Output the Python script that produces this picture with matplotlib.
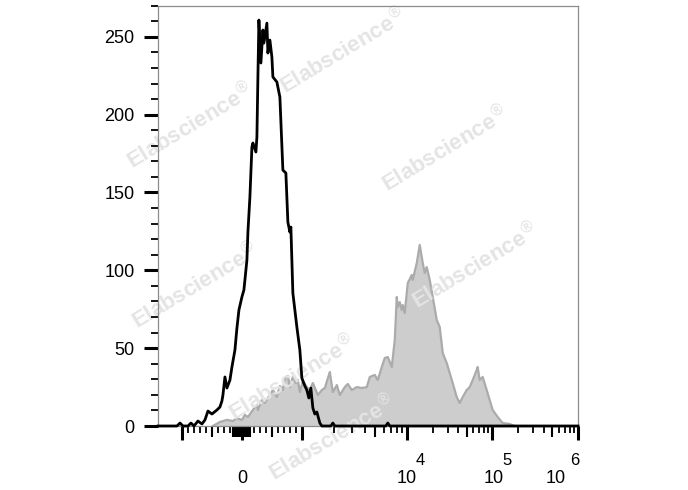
import matplotlib
matplotlib.use('Agg')
import matplotlib.pyplot as plt
import numpy as np
from matplotlib.ticker import MultipleLocator

plt.rcParams['font.family'] = ['Liberation Sans', 'DejaVu Sans']

#======================================================
# histogram outlines: display channel (0-1050) vs event count

# unstained / isotype control (black line)
black_ch = [0, 47.5, 55, 62.5, 75, 82.5, 90, 100, 110, 117.5, 125, 135, 147.5, 155,
            160, 162.5, 167.5, 172.5, 180, 185, 192.5, 197.5, 202.5, 210, 215, 222.5,
            225, 230, 235, 237.5, 245, 247.5, 250, 252.5, 257.5, 262.5, 265, 272.5,
            275, 280, 285, 287.5, 297.5, 305, 312.5, 320, 325, 330, 332.5, 337.5,
            347.5, 355, 360, 367.5, 372.5, 377.5, 382.5, 387.5, 392.5, 397.5, 405,
            410, 432.5, 437.5, 442.5, 570, 575, 580, 1051]
black_count = [0, 0, 1.9, 0, 0, 1.9, 0, 3.2, 1.3, 3.9, 9.6, 7.7, 10.3, 12.2,
               16.1, 19.9, 31.5, 24.4, 29.5, 37.9, 48.8, 62.9, 74.5, 82.9, 87.4, 106.6,
               124.6, 147.1, 179.2, 181.8, 176, 185.6, 224.2, 260.8, 233.2, 254.4, 246, 258.8,
               239.6, 247.9, 237, 224.2, 221, 211.3, 164.4, 162.5, 131, 124.6, 127.8, 85.4,
               63.6, 48.8, 30.8, 25.7, 23.1, 18, 24.4, 11.6, 7.7, 9, 1.9,
               0, 0, 1.9, 0, 0, 1.9, 0, 0]

# stained sample (grey filled)
gray_ch = [137.5, 155, 172.5, 187.5, 197.5, 210, 217.5, 225, 237.5, 247.5, 250, 260,
           267.5, 280, 287.5, 297.5, 305, 312.5, 317.5, 325, 330, 337.5, 345, 350,
           355, 362.5, 372.5, 380, 387.5, 400, 410, 417.5, 430, 437.5, 447.5, 455,
           467.5, 475, 485, 497.5, 510, 522.5, 530, 542.5, 550, 560, 567.5, 575,
           585, 592.5, 597.5, 600, 605, 610, 612.5, 617.5, 625, 635, 637.5, 647.5,
           655, 662.5, 667.5, 672.5, 680, 687.5, 697.5, 705, 712.5, 722.5, 730, 737.5,
           747.5, 755, 762.5, 772.5, 780, 787.5, 797.5, 800, 805, 812.5, 822.5, 830,
           837.5, 850, 862.5, 880, 892.5]
gray_count = [0, 2.6, 3.9, 3.2, 5.1, 3.9, 7.1, 5.8, 10.3, 13.5, 10.3, 16.7,
              14.8, 19.9, 23.1, 18.6, 25.7, 23.1, 30.8, 32.1, 25, 31.5, 27.6, 29.5,
              21.8, 28.9, 25, 23.1, 27.6, 19.9, 23.1, 24.4, 34.7, 21.8, 26.3, 19.9,
              25, 27, 23.1, 25, 24.4, 25, 31.5, 32.8, 29.5, 37.9, 43.7, 44.3,
              37.9, 55.2, 82.9, 76.4, 79.6, 74.5, 77.7, 72.6, 91.8, 97, 93.8, 104.7,
              116.3, 104.7, 98.3, 102.1, 93.8, 82.9, 68.1, 63.6, 46.9, 40.5, 34, 27.6,
              18.6, 14.8, 18.6, 23.1, 25, 29.5, 36, 37.9, 29.5, 31.5, 23.1, 16.7,
              10.3, 5.8, 1.9, 1.3, 0]

# axis ticks (fluorescence intensity)
major_vals = [-1000, 0, 1000, 1e4, 1e5, 1e6]
medium_vals = [-500, 500, 5e3, 5e4, 5e5] + list(range(-140, 141, 20))
minor_vals = [-900, -800, -700, -600, -400, -300, -200, 200, 300, 400,
              600, 700, 800, 900] + [k * 10**e for e in (3, 4, 5)
                                     for k in (2, 3, 4, 6, 7, 8, 9)]
# (value, base text, exponent, base x offset px, exponent x offset px)
xlabels = [(0, '0', None, 0, 0),
           (1e4, '10', '4', -0.5, 9),
           (1e5, '10', '5', 1.5, 10),
           (1e6, '10', '6', -22, -8)]

#======================================================
def to_channel(v):
    # biexponential-like display: linear around zero, log above 10^3
    v = np.asarray(v, dtype=float)
    out = np.empty_like(v)
    lin = np.abs(v) <= 1000
    out[lin] = 210 + 0.151 * v[lin]
    mid = (v > 1000) & (v <= 1e4)
    out[mid] = 361 + 261.5 * np.log10(v[mid] / 1000)
    hi = v > 1e4
    out[hi] = 622.5 + 214 * np.log10(v[hi] / 1e4)
    neg = v < -1000
    out[neg] = 59 - 261.5 * np.log10(-v[neg] / 1000)
    return out

#======================================================
fig = plt.figure(figsize=(6.88, 4.9), dpi=100)
ax = fig.add_axes([158/688, 64/490, 420/688, 420.3/490])

ax.fill_between(gray_ch, gray_count, color='#cdcdcd', lw=0, zorder=1)
ax.plot(gray_ch, gray_count, color='#ababab', lw=1.6, zorder=1.2)
ax.plot(black_ch, black_count, color='black', lw=2.0, zorder=3, clip_on=False)

ax.set_xlim(0, 1051)
ax.set_ylim(0, 270)

for s in ['top', 'right', 'left', 'bottom']:
    ax.spines[s].set_color('#8c8c8c')
    ax.spines[s].set_linewidth(0.9)

ax.set_yticks(range(0, 251, 50))
ax.yaxis.set_minor_locator(MultipleLocator(10))
ax.tick_params(axis='y', which='major', length=10, width=2.2, labelsize=13, pad=7)
ax.tick_params(axis='y', which='minor', length=5, width=1.3)

ax.set_xticks(to_channel(major_vals))
ax.set_xticks(to_channel(minor_vals), minor=True)
ax.tick_params(axis='x', which='major', length=10, width=2.2, labelbottom=False)
ax.tick_params(axis='x', which='minor', length=5, width=1.3)

sec = ax.secondary_xaxis('bottom')
sec.set_xticks(to_channel(medium_vals))
sec.tick_params(length=8, width=1.5, labelbottom=False)
sec.spines['bottom'].set_visible(False)

for val, base, ex, dx, ex_dx in xlabels:
    c = to_channel([val])[0]
    ax.annotate(base, xy=(c, 0), xycoords=('data', 'axes fraction'),
                xytext=(dx*0.72, -57*0.72), textcoords='offset points',
                ha='center', va='baseline', fontsize=13, annotation_clip=False)
    if ex:
        ax.annotate(ex, xy=(c, 0), xycoords=('data', 'axes fraction'),
                    xytext=(ex_dx*0.72, -39*0.72), textcoords='offset points',
                    ha='left', va='baseline', fontsize=12, annotation_clip=False)

# watermark
marks = [(190, 125), (343, 50), (445, 148), (475, 265), (195, 285), (292, 377), (332, 437)]
for px, py in marks:
    ax.text(px/688, 1 - py/490, 'Elabscience$^{®}$', transform=fig.transFigure,
            rotation=31, ha='center', va='center', fontsize=16, fontweight='bold',
            color='#e4e4e4', zorder=1.5, clip_on=False)

fig.savefig('out.png', dpi=100)
